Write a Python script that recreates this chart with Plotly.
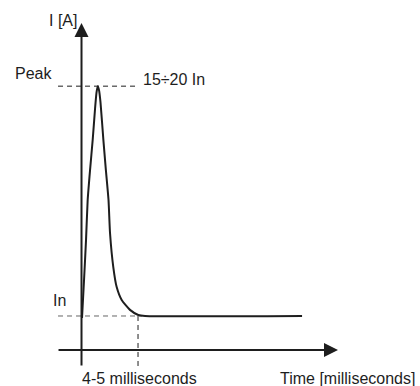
import plotly.graph_objects as go

# Inrush current curve (time in ms, current in schematic units where In = 1)
time_ms = [0.04, 0.20, 0.36, 0.49, 0.68, 0.89, 1.07, 1.19, 1.29, 1.39, 1.51, 1.74,
           1.94, 2.15, 2.27, 2.53, 2.80, 3.20, 3.86, 4.52, 5.06, 17.56]
current = [0.94, 2.06, 3.24, 4.41, 5.29, 6.18, 7.06, 7.56, 7.76, 7.65, 7.29, 6.18,
           5.29, 4.41, 3.44, 2.44, 1.85, 1.47, 1.18, 1.03, 1.00, 1.00]

peak_level = 7.76
nominal_level = 1.0
settle_time = 4.5

x_range = [-6.49, 26.95]
y_range = [-1.059, 10.294]

ink = "#1e1e1e"
font = dict(family="Liberation Sans, Arial, Helvetica, sans-serif", size=16, color=ink)

fig = go.Figure()

# reference dashed lines
fig.add_trace(go.Scatter(x=[-1.87, 4.42], y=[peak_level, peak_level], mode="lines",
                         line=dict(color=ink, width=1, dash="5px,4px"), hoverinfo="skip"))
fig.add_trace(go.Scatter(x=[-1.87, 4.82], y=[nominal_level, nominal_level], mode="lines",
                         line=dict(color="#666666", width=1, dash="5px,4px"), hoverinfo="skip"))
fig.add_trace(go.Scatter(x=[settle_time, settle_time], y=[nominal_level, -0.5], mode="lines",
                         line=dict(color=ink, width=1, dash="5px,4px"), hoverinfo="skip"))

# curve
fig.add_trace(go.Scatter(x=time_ms, y=current, mode="lines",
                         line=dict(color=ink, width=2, shape="spline", smoothing=0.5),
                         hoverinfo="skip"))

# axes with arrows
fig.add_annotation(x=20.42, y=0, ax=-1.95, ay=0, xref="x", yref="y", axref="x", ayref="y",
                   showarrow=True, arrowhead=2, arrowsize=1.4, arrowwidth=2, arrowcolor=ink, text="")
fig.add_annotation(x=0, y=9.62, ax=0, ay=-0.5, xref="x", yref="y", axref="x", ayref="y",
                   showarrow=True, arrowhead=2, arrowsize=1.4, arrowwidth=2, arrowcolor=ink, text="")

labels = [
    ("I [A]", -1.47, 9.68, "center"),
    ("Peak", -2.2, 8.12, "right"),
    ("15÷20 In", 4.74, 7.95, "left"),
    ("In", -1.1, 1.47, "right"),
    ("4-5 milliseconds", 4.58, -0.83, "center"),
    ("Time [milliseconds]", 26.75, -0.83, "right"),
]
for txt, lx, ly, anc in labels:
    fig.add_annotation(x=lx, y=ly, xref="x", yref="y", text=txt, showarrow=False,
                       xanchor=anc, yanchor="middle", font=font)

fig.update_layout(
    width=420, height=386,
    margin=dict(l=0, r=0, t=0, b=0),
    paper_bgcolor="white", plot_bgcolor="white",
    showlegend=False,
    xaxis=dict(range=x_range, visible=False, fixedrange=True),
    yaxis=dict(range=y_range, visible=False, fixedrange=True),
)

fig.write_html("out.html", config={"displayModeBar": False},
               post_script="document.body.style.margin='0';document.body.style.overflow='hidden';")
